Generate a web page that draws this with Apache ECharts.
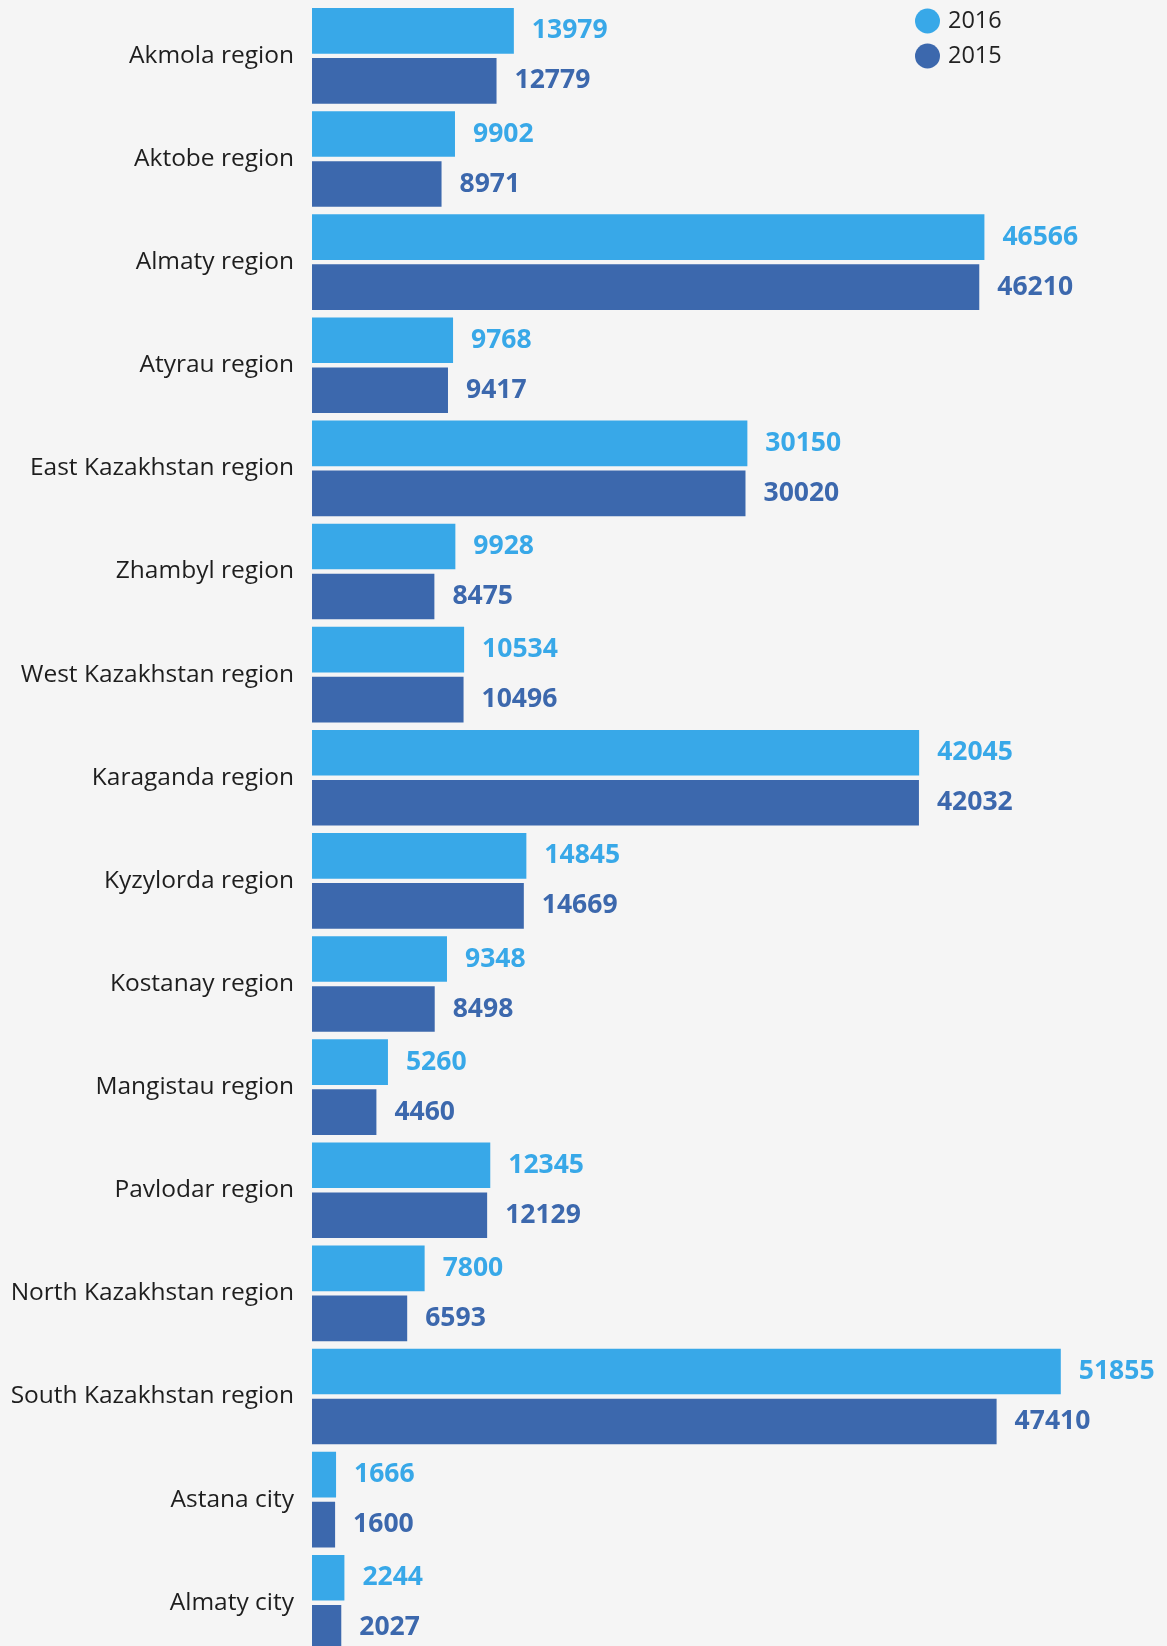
<!DOCTYPE html>
<html>
<head>
<meta charset="utf-8">
<script src="https://cdn.jsdelivr.net/npm/echarts@6/dist/echarts.min.js"></script>
<style>
html,body{margin:0;padding:0;background:#f5f5f5;overflow:hidden;}
#chart{width:1167px;height:1646px;}
</style>
</head>
<body>
<div id="chart"></div>
<script>
const categories = ["Akmola region","Aktobe region","Almaty region","Atyrau region","East Kazakhstan region","Zhambyl region","West Kazakhstan region","Karaganda region","Kyzylorda region","Kostanay region","Mangistau region","Pavlodar region","North Kazakhstan region","South Kazakhstan region","Astana city","Almaty city"];
const values2016 = [13979, 9902, 46566, 9768, 30150, 9928, 10534, 42045, 14845, 9348, 5260, 12345, 7800, 51855, 1666, 2244];
const values2015 = [12779, 8971, 46210, 9417, 30020, 8475, 10496, 42032, 14669, 8498, 4460, 12129, 6593, 47410, 1600, 2027];
const seriesNames = ["2016","2015"];

const chart = echarts.init(document.getElementById('chart'), null, {renderer:'canvas'});
const font = '"Open Sans", "Noto Sans", sans-serif';
const labelStyle = (color) => ({show:true, position:'right', distance:18, color:color, fontWeight:'bold', fontSize:26.5, fontFamily:font});
chart.setOption({
  backgroundColor:'#f5f5f5',
  animation:false,
  legend:{
    orient:'vertical', left:910, top:3.5, padding:5, itemWidth:25, itemHeight:25, itemGap:10,
    icon:'circle',
    textStyle:{fontSize:23.5, color:'#222', fontFamily:font, padding:[0,0,0,3]},
    data:seriesNames
  },
  grid:{left:312, top:4.3, width:794.2, height:1650, containLabel:false, outerBoundsMode:'none'},
  xAxis:{type:'value', min:0, max:55000, show:false, splitLine:{show:false}},
  yAxis:{
    type:'category', data:categories, inverse:true,
    axisLine:{show:false}, axisTick:{show:false},
    axisLabel:{margin:18, fontSize:24.5, color:'#1e1e1e', fontFamily:font}
  },
  series:[
    {name:seriesNames[0], type:'bar', data:values2016, barWidth:45.7, barGap:'9.4%',
     itemStyle:{color:'#38a8e8'}, label:labelStyle('#38a8e8')},
    {name:seriesNames[1], type:'bar', data:values2015, barWidth:45.7, barGap:'9.4%',
     itemStyle:{color:'#3c68ad'}, label:labelStyle('#3c68ad')}
  ]
});
</script>
</body>
</html>
